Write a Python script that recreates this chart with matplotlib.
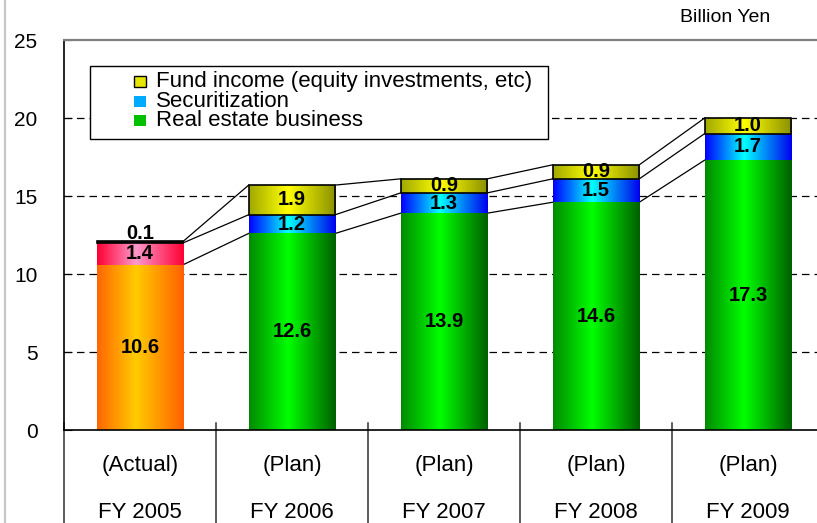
import numpy as np
import matplotlib
matplotlib.use('Agg')
import matplotlib.pyplot as plt
from matplotlib.colors import LinearSegmentedColormap
from matplotlib.patches import Rectangle
from matplotlib.lines import Line2D
from matplotlib.transforms import blended_transform_factory

# Segment values, billion yen
years = ['FY 2005', 'FY 2006', 'FY 2007', 'FY 2008', 'FY 2009']
status = ['(Actual)', '(Plan)', '(Plan)', '(Plan)', '(Plan)']
real_estate = [10.6, 12.6, 13.9, 14.6, 17.3]
securitization = [1.4, 1.2, 1.3, 1.5, 1.7]
fund_income = [0.1, 1.9, 0.9, 0.9, 1.0]
legend_labels = ['Fund income (equity investments, etc)', 'Securitization',
                 'Real estate business']

plt.rcParams['font.family'] = ['Liberation Sans', 'DejaVu Sans']

W, H = 817, 523
fig = plt.figure(figsize=(W / 100, H / 100), dpi=100)
ax = fig.add_axes([64 / W, 1 - 430 / H, 760 / W, 390 / H])


def ramp(left, mid, right):
    return LinearSegmentedColormap.from_list('', [(0, left), (0.45, mid), (1, right)])


cm_green = ramp('#008a00', '#00ff00', '#006000')
cm_blue = ramp('#0000ff', '#00ffff', '#0000ee')
cm_yellow = ramp('#a0a800', '#ffff00', '#8a9000')
cm_orange = ramp('#ff6600', '#ffcc00', '#ff6000')
cm_pink = ramp('#ff0033', '#ff99cc', '#ff0033')
cm_dark = ramp('#222200', '#111111', '#222200')

grad = np.linspace(0, 1, 256)[None, :]

x = np.arange(len(years))
bw = 0.57
re = np.array(real_estate)
se = np.array(securitization)
fu = np.array(fund_income)
lvl2 = re + se
top = lvl2 + fu


def shade(bars, cmaps):
    for bar, cm in zip(bars, cmaps):
        x0, y0 = bar.get_x(), bar.get_y()
        w, h = bar.get_width(), bar.get_height()
        im = ax.imshow(grad, cmap=cm, extent=[x0, x0 + w, y0, y0 + h],
                       aspect='auto', zorder=2, interpolation='bilinear')
        im.set_clip_path(bar)


b_re = ax.bar(x, re, bw, color='none', linewidth=0, zorder=2)
b_se = ax.bar(x, se, bw, bottom=re, color='none', linewidth=0, zorder=2)
b_fu = ax.bar(x, fu, bw, bottom=lvl2, color='none', edgecolor='black',
              linewidth=1.2, zorder=3)

shade(b_re, [cm_orange] + [cm_green] * 4)
shade(b_se, [cm_pink] + [cm_blue] * 4)
shade(b_fu, [cm_dark] + [cm_yellow] * 4)

# connector lines between neighbouring bars
for i in range(len(x) - 1):
    for lv in (re, lvl2, top):
        ax.plot([x[i] + bw / 2, x[i + 1] - bw / 2], [lv[i], lv[i + 1]],
                color='black', lw=0.9, zorder=1)

# value labels
for i in range(len(x)):
    ax.text(x[i], re[i] / 2, f'{re[i]:.1f}', ha='center', va='center',
            fontsize=14.5, fontweight='bold', zorder=5)
    ax.text(x[i], re[i] + se[i] / 2, f'{se[i]:.1f}', ha='center', va='center',
            fontsize=14.5, fontweight='bold', zorder=5)
    fy = lvl2[i] + fu[i] / 2 if fu[i] >= 0.5 else top[i] + 0.5
    ax.text(x[i], fy, f'{fu[i]:.1f}', ha='center', va='center',
            fontsize=14.5, fontweight='bold', zorder=5)

for y in [5, 10, 15, 20]:
    ax.axhline(y, color='black', lw=0.9, linestyle=(0, (6, 4)), zorder=0)

ax.set_xlim(-0.5, 4.5)
ax.set_ylim(0, 25)
ax.set_yticks(range(0, 26, 5))
ax.set_xticks([])
ax.tick_params(axis='y', direction='in', length=6, pad=19, labelsize=15)

for side in ('left', 'bottom'):
    ax.spines[side].set_color('black')
    ax.spines[side].set_linewidth(1.2)
ax.spines['top'].set_color('#808080')
ax.spines['top'].set_linewidth(1.6)
ax.spines['right'].set_visible(False)

# category table under the axis
tr = blended_transform_factory(ax.transData, ax.transAxes)
for b in np.arange(len(x) + 1) - 0.5:
    ax.plot([b, b], [7 / 390, -100 / 390], transform=tr, clip_on=False,
            color='#303030', lw=1.1)
for i in range(len(x)):
    ax.text(x[i], -35 / 390, status[i], transform=tr, ha='center', va='center',
            fontsize=16)
    ax.text(x[i], -83 / 390, years[i], transform=tr, ha='center', va='center',
            fontsize=16)

fig.text(725 / W, 1 - 18 / H, 'Billion Yen', ha='center', va='center', fontsize=14)
fig.add_artist(Line2D([5 / W, 5 / W], [0, 1], color='#c8c8c8', lw=1.6))

# legend box
fig.add_artist(Rectangle((90 / W, 1 - 139 / H), 458 / W, 73 / H,
                         facecolor='white', edgecolor='black', lw=1,
                         transform=fig.transFigure, zorder=5))
sw_colors = ['#e6e600', '#00aaff', '#00c000']
sw_edges = ['black', 'none', 'none']
for k, (lab, yc) in enumerate(zip(legend_labels, [81, 101, 120])):
    fig.add_artist(Rectangle((134 / W, 1 - (yc + 6) / H), 12 / W, 11 / H,
                             facecolor=sw_colors[k], edgecolor=sw_edges[k], lw=1,
                             transform=fig.transFigure, zorder=6))
    fig.text(156 / W, 1 - yc / H, lab, ha='left', va='center', fontsize=16,
             zorder=7)

fig.savefig('out.png', dpi=100)
